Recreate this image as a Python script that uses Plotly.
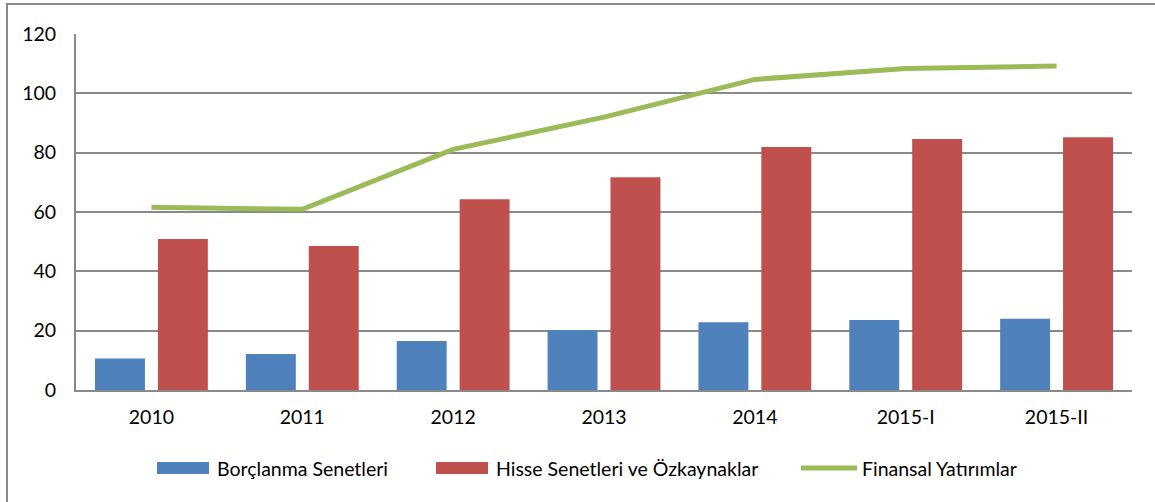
import plotly.graph_objects as go

categories = ["2010", "2011", "2012", "2013", "2014", "2015-I", "2015-II"]
borclanma = [10.6, 12.1, 16.5, 20.2, 22.8, 23.6, 24.0]
hisse = [50.9, 48.5, 64.3, 71.7, 81.9, 84.6, 85.2]
finansal = [61.6, 60.9, 81.1, 92.0, 104.7, 108.4, 109.2]
series_names = ["Borçlanma Senetleri", "Hisse Senetleri ve Özkaynaklar", "Finansal Yatırımlar"]

BLUE = "#4F81BD"
RED = "#C0504D"
GREEN = "#9BBB59"
GRID = "#898989"
FONT = "Lato"
FS = 19.5

W, H = 1155, 502
L, R, T, B = 76, 23, 34, 112
PW, PH = W - L - R, H - T - B


def px(x):
    return (x - L) / PW


def py(y):
    return (H - B - y) / PH


fig = go.Figure()
fig.add_trace(go.Bar(x=categories, y=borclanma, name=series_names[0], marker=dict(color=BLUE, line=dict(width=0))))
fig.add_trace(go.Bar(x=categories, y=hisse, name=series_names[1], marker=dict(color=RED, line=dict(width=0))))
fig.add_trace(go.Scatter(x=categories, y=finansal, name=series_names[2], mode="lines",
                         line=dict(color=GREEN, width=5)))

shapes = []
annotations = []
# outer border
shapes.append(dict(type="rect", xref="paper", yref="paper", x0=px(7), x1=px(1162), y0=py(4), y1=py(515),
                   line=dict(color=GRID, width=2), fillcolor="rgba(0,0,0,0)", layer="below"))
# custom legend
leg_y = 468
items = [
    (157, 209, 215, "bar", BLUE, series_names[0]),
    (436, 488, 494, "bar", RED, series_names[1]),
    (801, 857, 860, "line", GREEN, series_names[2]),
]
for x0, x1, tx, kind, col, name in items:
    if kind == "bar":
        shapes.append(dict(type="rect", xref="paper", yref="paper", x0=px(x0), x1=px(x1),
                           y0=py(leg_y - 6), y1=py(leg_y + 6), fillcolor=col, line=dict(width=0)))
    else:
        shapes.append(dict(type="line", xref="paper", yref="paper", x0=px(x0), x1=px(x1),
                           y0=py(leg_y), y1=py(leg_y), line=dict(color=col, width=5)))
    annotations.append(dict(xref="paper", yref="paper", x=px(tx), y=py(leg_y), text=name, showarrow=False,
                            xanchor="left", yanchor="middle", font=dict(family=FONT, size=FS, color="#000")))

fig.update_layout(
    width=W, height=H,
    margin=dict(l=L, r=R, t=T, b=B, pad=0),
    paper_bgcolor="white", plot_bgcolor="white",
    barmode="group", bargap=0.166, bargroupgap=0.206,
    showlegend=False,
    font=dict(family=FONT, size=FS, color="#000"),
    shapes=shapes, annotations=annotations,
    xaxis=dict(showline=True, linecolor=GRID, linewidth=2, showgrid=False, ticks="",
               ticklabelstandoff=9, tickfont=dict(family=FONT, size=FS, color="#000")),
    yaxis=dict(range=[0, 120], dtick=20, showline=True, linecolor=GRID, linewidth=2,
               showgrid=True, gridcolor=GRID, gridwidth=2, zeroline=False, ticks="",
               ticklabelstandoff=14, tickfont=dict(family=FONT, size=FS, color="#000")),
)

fig.write_html("out.html", config={"displayModeBar": False},
               post_script="document.body.style.margin='0';document.body.style.overflow='hidden';")
